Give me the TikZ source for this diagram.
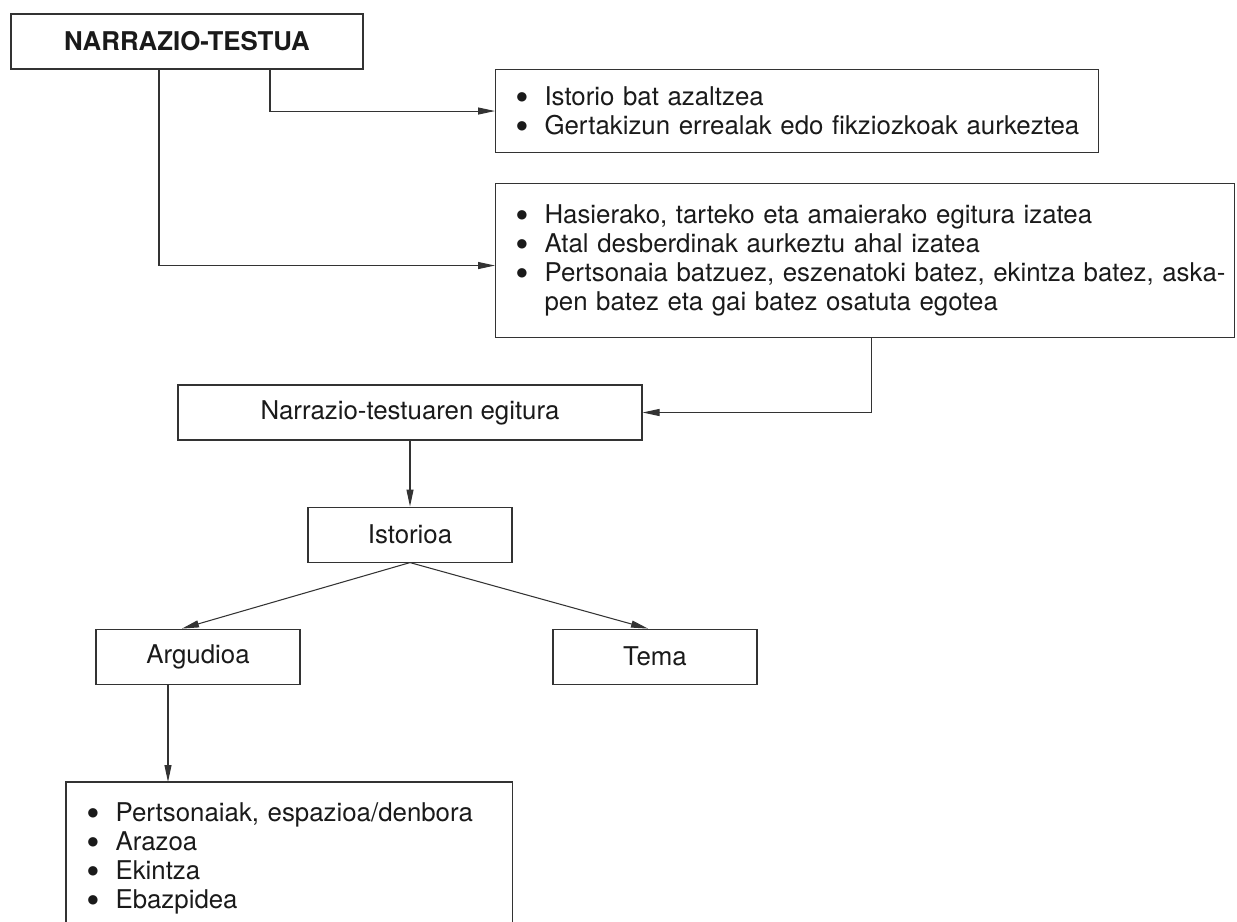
\documentclass[tikz,border=0pt]{standalone}
\usepackage{fontspec}
\setmainfont{TeX Gyre Heros}
\newfontfamily\bulfont{DejaVu Sans}
\usepackage{xcolor}
\definecolor{lineGrey}{HTML}{333333}
\definecolor{textGrey}{HTML}{1A1A1A}
\usetikzlibrary{arrows.meta, positioning}
\newcommand{\bodyfont}{\fontsize{14.7pt}{16.5pt}\selectfont}
\newcommand{\titlefont}{\fontsize{14.7pt}{16.5pt}\selectfont\bfseries}
\newcommand{\bul}{\makebox[5.6mm][l]{\raisebox{3.1pt}{\fontsize{7pt}{7pt}\bulfont ●}}}
\newcommand{\itm}[1]{\mbox{\bul #1}}
\newcommand{\bulgap}{\hspace*{5.6mm}}
\tikzset{
    box/.style={rectangle, draw=lineGrey, line width=0.6pt, minimum height=1.1cm,
                inner sep=0pt, font=\bodyfont, text=textGrey},
    listbox/.style={box, anchor=north west, align=left, inner xsep=0.42cm,
                    inner ysep=0pt},
    link/.style={-{Triangle[length=3.4mm, width=1.4mm]}, line width=0.6pt, draw=lineGrey},
    rim/.style={-, line width=0.6pt, draw=lineGrey},
}

\begin{document}
\begin{tikzpicture}[x=0.2mm, y=-0.2mm]
    \useasboundingbox (0,0) rectangle (1237,922);
    \node[box, font=\titlefont, minimum width=7.04cm] (title) at (187,41.5) {NARRAZIO-TESTUA};
    \node[listbox, text width=11.22cm, text height=0.72cm, text depth=0.94cm] (aim) at (495,69)
        {\itm{Istorio bat azaltzea}\\
         \itm{Gertakizun errealak edo fikziozkoak aurkeztea}};
    \node[listbox, text width=13.94cm, text height=0.8cm, text depth=2.28cm] (traits) at (495,183)
        {\itm{Hasierako, tarteko eta amaierako egitura izatea}\\
         \itm{Atal desberdinak aurkeztu ahal izatea}\\
         \itm{Pertsonaia batzuez, eszenatoki batez, ekintza batez, aska-}\\
         \mbox{\bulgap pen batez eta gai batez osatuta egotea}};
    \node[box, minimum width=9.28cm] (egitura) at (410,412.5) {Narrazio-testuaren egitura};
    \node[box, minimum width=4.08cm, below=1.32cm of egitura] (istorioa) {Istorioa};
    \node[box, minimum width=4.08cm, below=1.32cm of istorioa, xshift=-4.24cm] (argudioa) {Argudioa};
    \node[box, minimum width=4.08cm, below=1.32cm of istorioa, xshift=4.9cm] (tema) {Tema};
    \node[listbox, draw=none, text width=8.06cm, text height=0.78cm, text depth=2.02cm] (osagaiak) at (66,782)
        {\itm{Pertsonaiak, espazioa/denbora}\\
         \itm{Arazoa}\\
         \itm{Ekintza}\\
         \itm{Ebazpidea}};
    \draw[link] ([xshift=1.66cm]title.south) |- (aim.west);
    \draw[link] ([xshift=-0.56cm]title.south) |- ([yshift=-0.1cm]traits.west);
    \draw[link] ([xshift=0.13cm]traits.south) |- (egitura.east);
    \draw[link] (egitura) -- (istorioa);
    \draw[link] (istorioa.south) -- ([xshift=-0.32cm]argudioa.north);
    \draw[link] (istorioa.south) -- ([xshift=-0.14cm]tema.north);
    \draw[link] ([xshift=-0.6cm]argudioa.south) -- ([xshift=-0.6cm]argudioa.south |- osagaiak.north);
    \draw[rim] (osagaiak.south west) |- (osagaiak.north east) -- (osagaiak.south east);
\end{tikzpicture}
\end{document}
